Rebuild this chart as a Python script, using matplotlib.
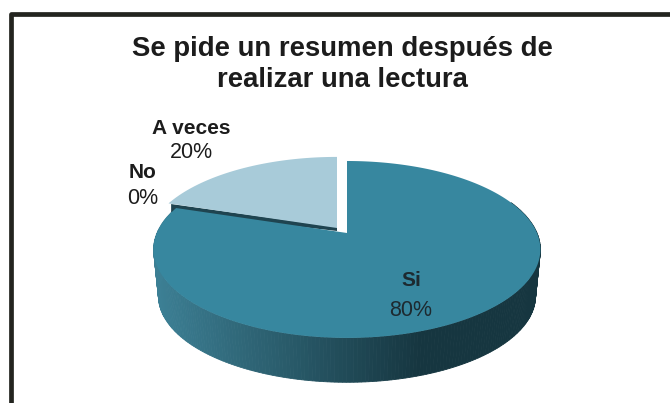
import numpy as np
import matplotlib
matplotlib.use("Agg")
import matplotlib.pyplot as plt

plt.rcParams['font.family'] = ['Liberation Sans', 'DejaVu Sans']

title_lines = ["Se pide un resumen después de", "realizar una lectura"]
categories = ['Si', 'No', 'A veces']
values = [80, 0, 20]

top_color = '#37879f'
light_color = '#a8cbd9'
side_left = np.array([0x3c, 0x7f, 0x94]) / 255
side_right = np.array([0x16, 0x36, 0x40]) / 255

# pie centre and projection, in pixels
cx, cy = 347, 233
a, b, k = 190, 85.4, 0.186
depth = 47
shrink = 0.975


def project(angle, r=1.0):
    # angle is degrees clockwise from the top of the pie
    t = np.radians(angle)
    u = r * np.sin(t)
    v = -r * np.cos(t)
    w = 1 - k * v
    return a * u / w, b * v / w


fig = plt.figure(figsize=(6.7, 4.03), dpi=100)
ax = fig.add_axes([0, 0, 1, 1])
ax.set_xlim(0, 670)
ax.set_ylim(403, 0)
ax.axis('off')

# frame
ax.plot([10.5, 10.5, 670], [403, 14, 14], color='#23241f', lw=3.4,
        solid_joinstyle='round')

ax.text(342.5, 49, title_lines[0], ha='center', va='center', fontsize=19.8,
        fontweight='bold', color='#1c1c1c')
ax.text(342, 80, title_lines[1], ha='center', va='center', fontsize=19.8,
        fontweight='bold', color='#1c1c1c')

shares = np.array(values) / sum(values) * 360
si_end = shares[0]
no_end = si_end + shares[1]
av_end = no_end + shares[2]

# side wall of the big slice, strip by strip
angles = np.linspace(60, si_end, 240)
xs, ys = project(angles)
x_max = 75
for i in range(len(angles) - 1):
    if ys[i] < -30 and ys[i + 1] < -30:
        continue
    f = np.clip((xs[i] + 190) / (x_max + 190), 0, 1)
    c = side_left * (1 - f) + side_right * f
    ax.fill([cx + xs[i], cx + xs[i + 1],
             cx + xs[i + 1] * shrink, cx + xs[i] * shrink],
            [cy + ys[i], cy + ys[i + 1],
             cy + ys[i + 1] * shrink + depth, cy + ys[i] * shrink + depth],
            color=c, lw=0.6)

# thin dark wall showing under the light slice
ex, ey = project(si_end)
ax.fill([cx - 10, cx + ex - 5, cx + ex - 5, cx - 10],
        [cy - 6, cy + ey - 4, cy + ey + 4, cy - 2],
        color='#1f4450', lw=0)

# big slice
th = np.linspace(0, si_end, 300)
xs, ys = project(th)
ax.fill(np.r_[cx, cx + xs], np.r_[cy, cy + ys], color=top_color, lw=0)

# exploded light slice
th = np.linspace(no_end, av_end, 120)
xs, ys = project(th, 0.985)
ox, oy = -10, -5
ax.fill(np.r_[cx + ox, cx + ox + xs], np.r_[cy + oy, cy + oy + ys],
        color=light_color, lw=0)


# labels: name in bold, percentage under it
def label(x, y_name, y_pct, i, color):
    ax.text(x, y_name, categories[i], ha='center', va='center', fontsize=15,
            fontweight='bold', color=color)
    ax.text(x, y_pct, f"{values[i]}%", ha='center', va='center', fontsize=15.5,
            color=color)


label(411, 281, 310, 0, '#1d2a30')
label(143, 173, 199, 1, '#1c1c1c')
label(191, 129, 153, 2, '#1c1c1c')

fig.savefig('out.png', dpi=100)
